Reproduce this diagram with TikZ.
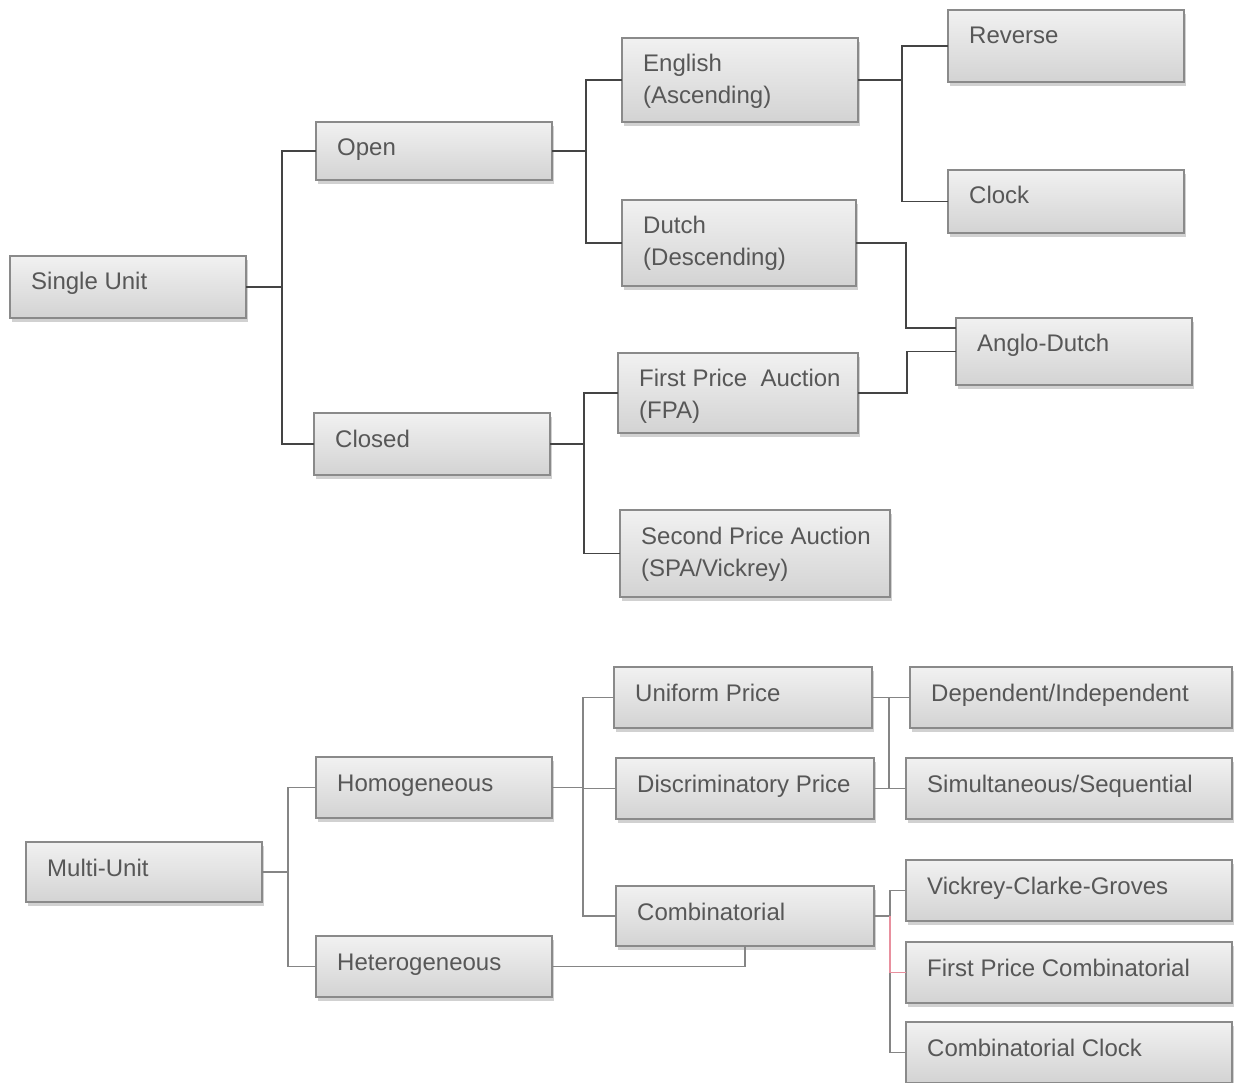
\documentclass[tikz,border=0pt]{standalone}
\usepackage{fontspec}
\setmainfont{Liberation Sans}
\usetikzlibrary{shadows}
\definecolor{txt}{HTML}{575757}
\definecolor{brd}{HTML}{8A8A8A}
\definecolor{ctop}{HTML}{F1F1F1}
\definecolor{cbot}{HTML}{D3D3D3}
\definecolor{darkln}{HTML}{444444}
\definecolor{grayln}{HTML}{858585}
\definecolor{pinkln}{HTML}{E8909E}
\tikzset{
  box/.style={draw=brd, line width=1.4pt, top color=ctop, bottom color=cbot,
    inner sep=0pt, outer sep=0pt,
    drop shadow={shadow xshift=2pt, shadow yshift=-4pt, opacity=0.18, fill=black}},
  lab/.style={anchor=base west, inner sep=0pt, text=txt,
    font=\fontsize{24}{32}\selectfont},
  cdark/.style={draw=darkln, line width=1.5pt},
  cgray/.style={draw=grayln, line width=1.5pt},
  cpink/.style={draw=pinkln, line width=1.5pt}
}
\newcommand\bx[6]{%
  \node[box, minimum width={(#4-#2)*1pt}, minimum height={(#5-#3)*1pt}] (#1) at ({(#2+#4)/2},{(#3+#5)/2}) {};
  \node[lab] (#1-t) at ({#2+21},{#3+34}) {#6};}
\newcommand\two[2]{\vtop{\hbox{#1}\hbox{#2}}}
\begin{document}
\begin{tikzpicture}[x=1pt,y=-1pt]
\useasboundingbox[fill=white] (0,0) rectangle (1235,1083);
% single unit part
\bx{su}{10}{256}{246}{318}{Single Unit}
\bx{open}{316}{122}{552}{180}{Open}
\bx{closed}{314}{413}{550}{475}{Closed}
\bx{eng}{622}{38}{858}{122}{\two{English}{(Ascending)}}
\bx{dutch}{622}{200}{856}{286}{\two{Dutch}{(Descending)}}
\bx{rev}{948}{10}{1184}{82}{Reverse}
\bx{clock}{948}{170}{1184}{233}{Clock}
\bx{ad}{956}{318}{1192}{385}{Anglo-Dutch}
\bx{fpa}{618}{353}{858}{433}{\two{First Price\ \ Auction}{(FPA)}}
\bx{spa}{620}{510}{890}{597}{\two{Second Price Auction}{(SPA/Vickrey)}}
% multi unit part
\bx{mu}{26}{842}{262}{902}{Multi-Unit}
\bx{hom}{316}{757}{552}{818}{Homogeneous}
\bx{het}{316}{936}{552}{997}{Heterogeneous}
\bx{uni}{614}{667}{872}{728}{Uniform Price}
\bx{dis}{616}{758}{874}{819}{Discriminatory Price}
\bx{comb}{616}{886}{874}{946}{Combinatorial}
\bx{dep}{910}{667}{1232}{728}{Dependent/Independent}
\bx{sim}{906}{758}{1232}{819}{Simultaneous/Sequential}
\bx{vcg}{906}{860}{1232}{921}{Vickrey-Clarke-Groves}
\bx{fpc}{906}{942}{1232}{1003}{First Price Combinatorial}
\bx{cc}{906}{1022}{1232}{1083}{Combinatorial Clock}
% connectors (top)
\draw[cdark] (su.east) -- ++(36,0) coordinate (j1) |- (open.west);
\draw[cdark] (j1) |- (closed.west);
\draw[cdark] (open.east) -- ++(34,0) coordinate (j2) |- (eng.west);
\draw[cdark] (j2) |- (dutch.west);
\draw[cdark] (eng.east) -- ++(44,0) coordinate (j3) |- (rev.west);
\draw[cdark] (j3) |- (clock.west);
\draw[cdark] (dutch.east) -- ++(50,0) |- ([yshift=23.5pt]ad.west);
\draw[cdark] (fpa.east) -- ++(49,0) |- (ad.west);
\draw[cdark] (closed.east) -- ++(34,0) coordinate (j4) |- (fpa.west);
\draw[cdark] (j4) |- (spa.west);
% connectors (bottom)
\draw[cgray] (mu.east) -- ++(26,0) coordinate (k1) |- (hom.west);
\draw[cgray] (k1) |- (het.west);
\draw[cgray] (hom.east) -- ++(31,0) coordinate (k2) |- (uni.west);
\draw[cgray] (k2) |- (dis.west);
\draw[cgray] (k2) |- (comb.west);
\draw[cgray] (het.east) -| (comb.south);
\draw[cgray] (uni.east) -- ++(17,0) coordinate (k3) |- (dep.west);
\draw[cgray] (k3) |- (sim.west);
\draw[cgray] (dis.east) -- (sim.west);
\draw[cgray] (comb.east) -- ++(16,0) coordinate (k4) |- (vcg.west);
\draw[cgray] (k4) |- (cc.west);
\draw[cpink] (k4) |- (fpc.west);
\end{tikzpicture}
\end{document}
